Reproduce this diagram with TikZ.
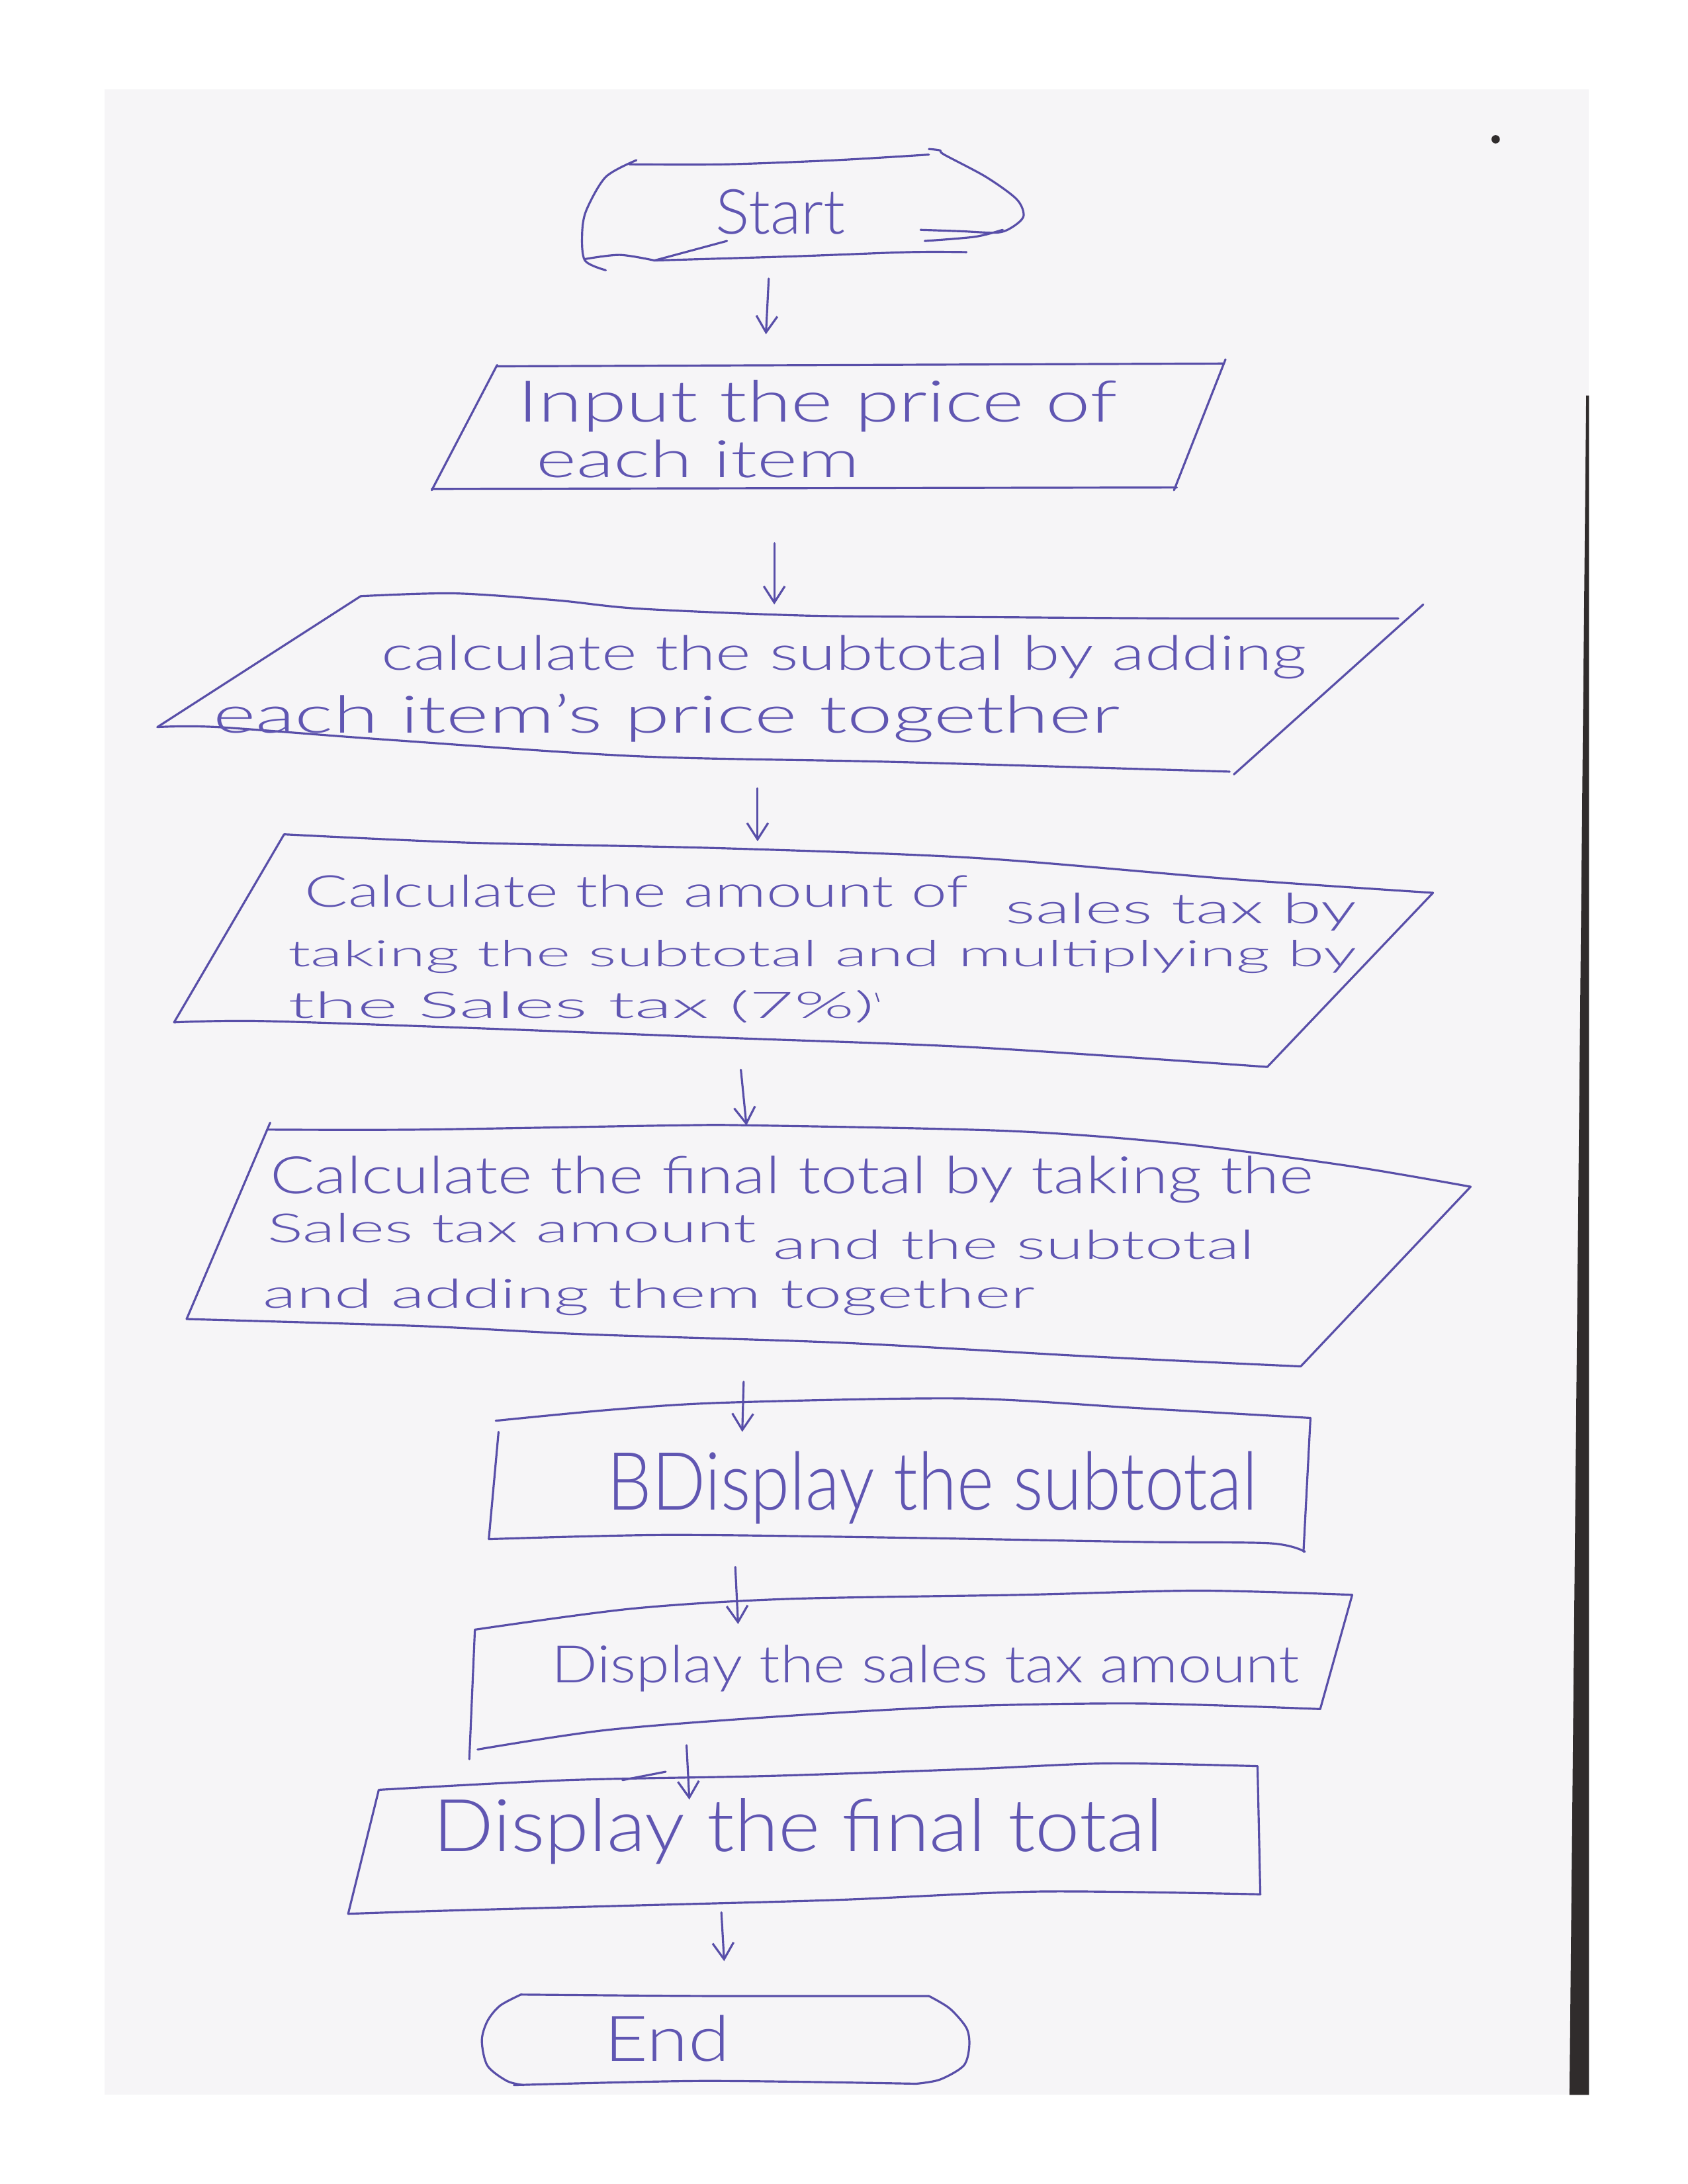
\documentclass[tikz,border=0pt]{standalone}
\usepackage{fontspec}
\IfFontExistsTF{Lato Light}{\setmainfont{Lato Light}}{\setmainfont{Lato}}
\usepackage{graphicx}
\usetikzlibrary{arrows.meta}
\definecolor{penc}{RGB}{88,78,168}
\definecolor{inkc}{RGB}{96,86,178}
\definecolor{paperc}{RGB}{246,245,247}
\definecolor{stripc}{RGB}{48,44,44}
\newlength\pxu
\setlength\pxu{0.5966pt}
\tikzset{
  pen/.style={draw=penc, line width=0.9pt, line cap=round, line join=round},
  arr/.style={pen, -{Straight Barb[length=7pt,width=9pt]}},
  txt/.style={anchor=base west, inner sep=0pt, outer sep=0pt, text=inkc}
}
\newcommand\hw[6]{\node[txt, rotate=#5] (#1) at (#2) {\resizebox{#3\pxu}{#4\pxu}{#6}};}
\begin{document}
\begin{tikzpicture}[x=0.5966pt,y=-0.5966pt]
\useasboundingbox (0,0) rectangle (1212,1568);
\fill[white] (0,0) rectangle (1212,1568);
% paper
\fill[paperc] (75,64) rectangle (1141,1504);
\fill[stripc] (1139,284) -- (1141,284) -- (1141,1504) -- (1127,1504) -- cycle;
\fill[stripc] (1074,100) circle (3);

% ---- Start terminal
\draw[pen] plot[smooth] coordinates {(452,118) (520,118) (600,115) (667,111)};
\draw[pen] plot[smooth] coordinates {(457,115) (435,127) (421,151) (418,168) (420,187) (435,194)};
\draw[pen] plot[smooth] coordinates {(420,186) (445,183) (470,187)};
\draw[pen] plot[smooth] coordinates {(470,187) (571,184) (653,181) (694,181)};
\draw[pen] (470,187) -- (522,173);
\draw[pen] plot[smooth] coordinates {(667,107) (675,108) (678,111) (708,127) (730,143) (735,155) (727,163) (716,167) (690,166) (661,165)};
\draw[pen] plot[smooth] coordinates {(720,165) (700,170) (664,173)};
\hw{tStart}{514,168}{93}{32}{0}{Start}

% ---- Input
\draw[pen] (357,263) -- (878,261);
\draw[pen] (880,258) -- (843,352);
\draw[pen] (310,351) -- (845,350);
\draw[pen] (357,262) -- (310,352);
\hw{tIn1}{372,303}{430}{30}{0}{Input the price of}
\hw{tIn2}{385,343}{232}{27}{0}{each item}

% ---- Calc subtotal
\draw[pen] plot[smooth] coordinates {(259,428) (326,426) (400,431) (459,437) (580,442) (701,443) (853,444) (1004,444)};
\draw[pen] (1022,434) -- (886,556);
\draw[pen] plot[smooth] coordinates {(113,522) (156,522) (277,531) (459,543) (641,547) (883,554)};
\draw[pen] (259,428) -- (113,522);
\hw{tC1a}{274,481}{664}{25}{0}{calculate the subtotal by adding}
\hw{tC1b}{153,526}{651}{28}{0}{each item's price together}

% ---- Calc sales tax
\draw[pen] plot[smooth] coordinates {(204,599) (337,605) (519,609) (701,616) (883,631) (1029,641)};
\draw[pen] (1029,641) -- (910,766);
\draw[pen] plot[smooth] coordinates {(125,734) (186,733) (337,738) (519,745) (701,752) (910,766)};
\draw[pen] (204,599) -- (125,734);
\hw{tC2a}{219,651}{476}{23}{0}{Calculate the amount of}
\hw{tC2ab}{722,663}{252}{22}{0}{sales tax by}
\hw{tC2b}{207,694}{767}{19}{0}{taking the subtotal and multiplying by}
\hw{tC2c}{207,731}{421}{20}{0}{the Sales tax (7\%)}
\draw[pen, line width=0.6pt] (629,713) -- (631,719);

% ---- Calc final total
\draw[pen] plot[smooth] coordinates {(192,811) (301,811) (482,808) (543,808) (725,812) (846,821) (968,837) (1056,852)};
\draw[pen] (1056,852) -- (934,981);
\draw[pen] plot[smooth] coordinates {(134,947) (301,952) (422,958) (604,964) (786,974) (934,981)};
\draw[pen] (194,806) -- (134,947);
\hw{tC3a}{194,857}{749}{27}{0}{Calculate the final total by taking the}
\hw{tC3b}{192,892}{351}{21}{0}{Sales tax amount}
\hw{tC3c}{555,904}{346}{21}{0}{and the subtotal}
\hw{tC3d}{189,939}{554}{21}{0}{and adding them together}

% ---- Display subtotal
\draw[pen] plot[smooth] coordinates {(356,1020) (440,1012) (521,1007) (691,1004) (818,1011) (941,1018)};
\draw[pen] (358,1028) -- (351,1105);
\draw[pen] plot[smooth] coordinates {(351,1105) (479,1102) (648,1104) (818,1107) (912,1108) (937,1114)};
\draw[pen] (941,1018) -- (936,1114);
\hw{tD1}{436,1084}{467}{42}{0}{BDisplay the subtotal}

% ---- Display sales tax
\draw[pen] plot[smooth] coordinates {(341,1170) (453,1155) (564,1148) (733,1145) (861,1142) (971,1145)};
\draw[pen] (971,1145) -- (948,1227);
\draw[pen] plot[smooth] coordinates {(948,1227) (818,1223) (691,1225) (564,1232) (436,1242) (343,1256)};
\draw[pen] (341,1170) -- (337,1263);
\hw{tD2}{396,1208}{537}{27}{0}{Display the sales tax amount}

% ---- Display final total
\draw[pen] plot[smooth] coordinates {(272,1285) (408,1278) (553,1275) (699,1270) (796,1266) (903,1268)};
\draw[pen] (903,1268) -- (905,1360);
\draw[pen] plot[smooth] coordinates {(905,1360) (747,1358) (602,1364) (456,1368) (311,1372) (250,1374)};
\draw[pen] (272,1285) -- (250,1374);
\hw{tD3}{311,1329}{524}{38}{0}{Display the final total}

% ---- End terminal
\draw[pen] plot[smooth] coordinates {(374,1432) (505,1433) (667,1433)};
\draw[pen] plot[smooth] coordinates {(667,1433) (682,1442) (694,1456) (696,1469) (692,1483) (675,1493) (658,1496)};
\draw[pen] plot[smooth] coordinates {(658,1496) (505,1494) (369,1497)};
\draw[pen] plot[smooth] coordinates {(374,1432) (359,1440) (350,1451) (346,1465) (350,1483) (364,1494) (376,1497)};
\hw{tEnd}{434,1480}{90}{33}{0}{End}

% ---- connectors
\coordinate (a1s) at (552,200); \coordinate (a1e) at (550,240);
\coordinate (a2s) at (556,390); \coordinate (a2e) at (556,434);
\coordinate (a3s) at (544,566); \coordinate (a3e) at (544,604);
\coordinate (a4s) at (532,768); \coordinate (a4e) at (536,808);
\coordinate (a5s) at (534,992); \coordinate (a5e) at (533,1028);
\coordinate (a6s) at (528,1125); \coordinate (a6e) at (530,1166);
\coordinate (a7s) at (493,1253); \coordinate (a7e) at (495,1292);
\coordinate (a8s) at (518,1373); \coordinate (a8e) at (520,1408);
\draw[arr] (a1s) -- (a1e);
\draw[arr] (a2s) -- (a2e);
\draw[arr] (a3s) -- (a3e);
\draw[arr] (a4s) -- (a4e);
\draw[arr] (a5s) -- (a5e);
\draw[arr] (a6s) -- (a6e);
\draw[arr] (a7s) -- (a7e);
\draw[arr] (a8s) -- (a8e);
\coordinate (m7a) at (447,1278); \coordinate (m7b) at (478,1272);
\draw[pen] (m7a) -- (m7b);
\end{tikzpicture}
\end{document}
